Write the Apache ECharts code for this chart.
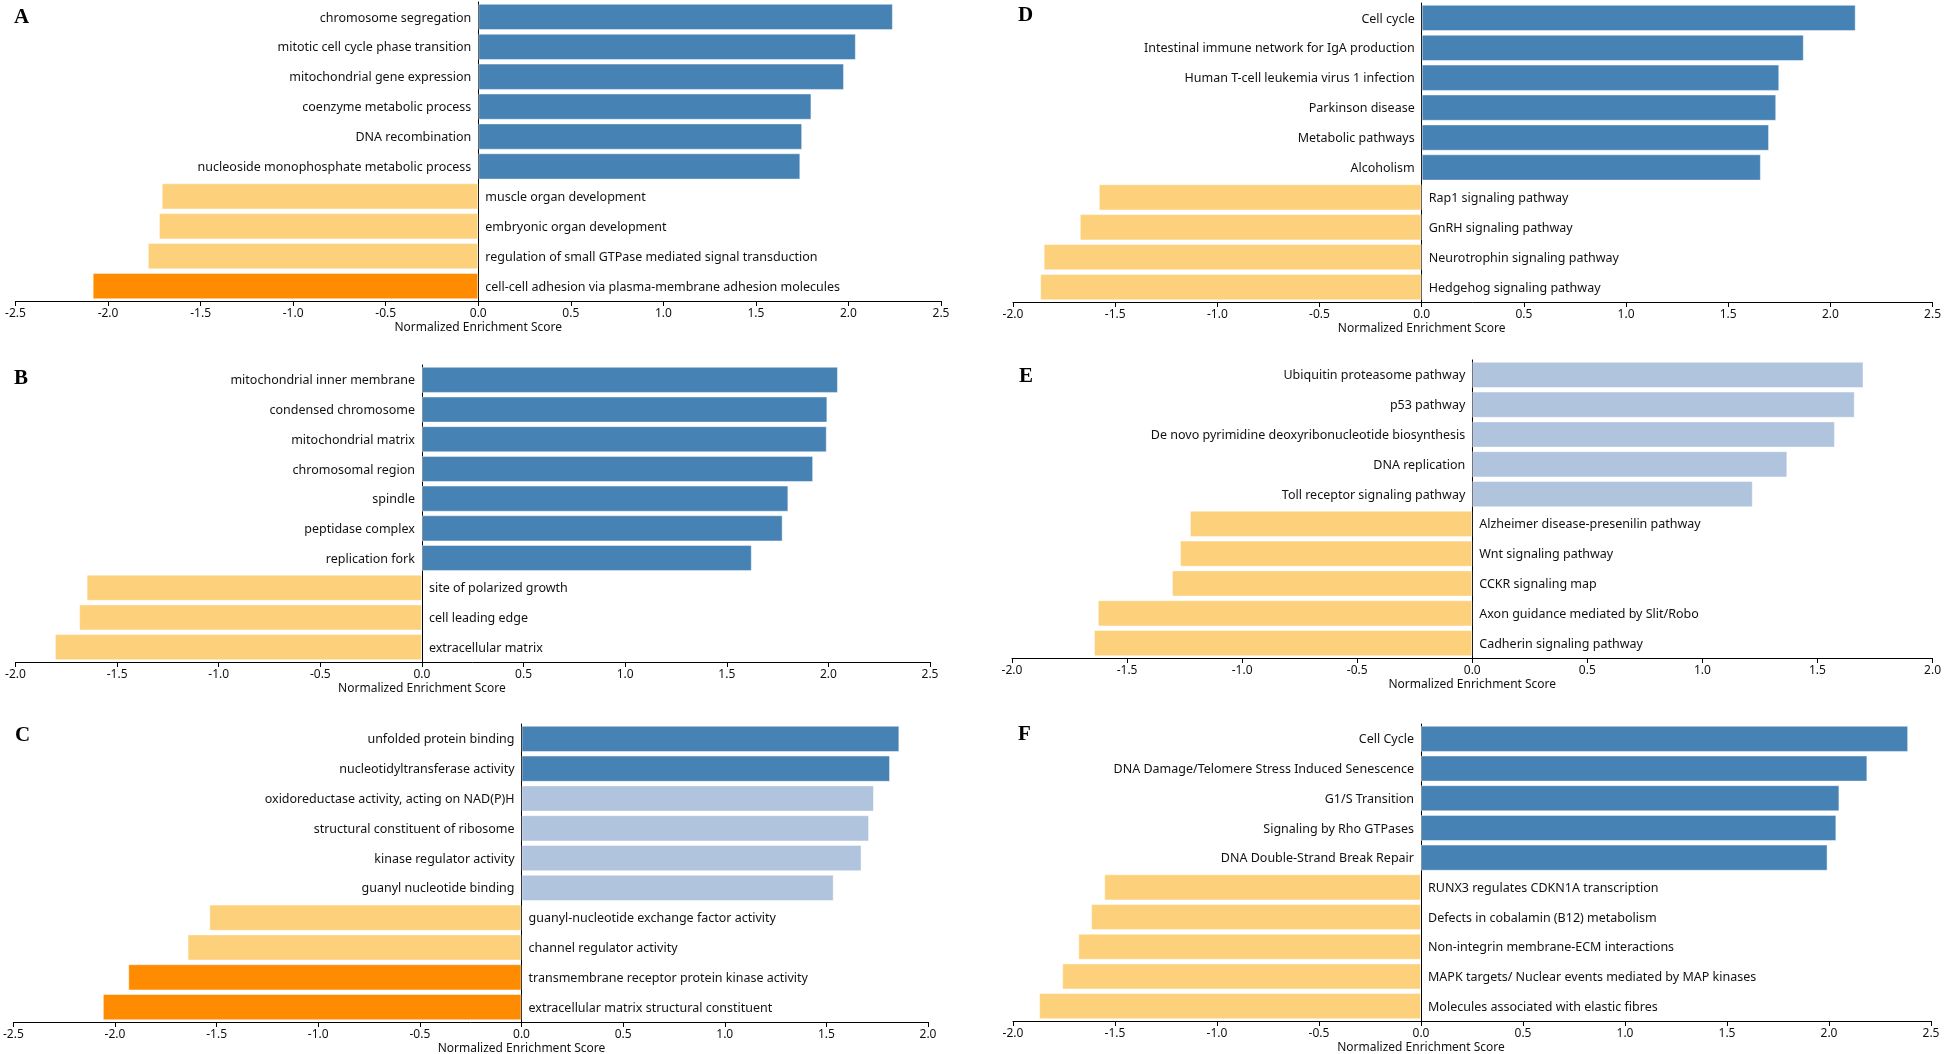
<!DOCTYPE html>
<html>
<head>
<meta charset="utf-8">
<script src="https://cdn.jsdelivr.net/npm/echarts@6/dist/echarts.min.js"></script>
<style>
html,body{margin:0;padding:0;background:#fff;}
#chart{width:1944px;height:1054px;}
</style>
</head>
<body>
<div id="chart"></div>
<script>
// ---------- DATA ----------
const catsA = ["chromosome segregation","mitotic cell cycle phase transition","mitochondrial gene expression","coenzyme metabolic process","DNA recombination","nucleoside monophosphate metabolic process","muscle organ development","embryonic organ development","regulation of small GTPase mediated signal transduction","cell-cell adhesion via plasma-membrane adhesion molecules"];
const valsA = [2.24, 2.04, 1.976, 1.80, 1.75, 1.74, -1.71, -1.725, -1.785, -2.083];
const sigA  = [1,1,1,1,1,1,0,0,0,1];

const catsB = ["mitochondrial inner membrane","condensed chromosome","mitochondrial matrix","chromosomal region","spindle","peptidase complex","replication fork","site of polarized growth","cell leading edge","extracellular matrix"];
const valsB = [2.047, 1.995, 1.992, 1.925, 1.803, 1.775, 1.623, -1.65, -1.687, -1.806];
const sigB  = [1,1,1,1,1,1,1,0,0,0];

const catsC = ["unfolded protein binding","nucleotidyltransferase activity","oxidoreductase activity, acting on NAD(P)H","structural constituent of ribosome","kinase regulator activity","guanyl nucleotide binding","guanyl-nucleotide exchange factor activity","channel regulator activity","transmembrane receptor protein kinase activity","extracellular matrix structural constituent"];
const valsC = [1.859, 1.813, 1.734, 1.71, 1.673, 1.536, -1.536, -1.643, -1.935, -2.06];
const sigC  = [1,1,0,0,0,0,0,0,1,1];

const catsD = ["Cell cycle","Intestinal immune network for IgA production","Human T-cell leukemia virus 1 infection","Parkinson disease","Metabolic pathways","Alcoholism","Rap1 signaling pathway","GnRH signaling pathway","Neurotrophin signaling pathway","Hedgehog signaling pathway"];
const valsD = [2.124, 1.87, 1.75, 1.735, 1.70, 1.66, -1.58, -1.673, -1.85, -1.867];
const sigD  = [1,1,1,1,1,1,0,0,0,0];

const catsE = ["Ubiquitin proteasome pathway","p53 pathway","De novo pyrimidine deoxyribonucleotide biosynthesis","DNA replication","Toll receptor signaling pathway","Alzheimer disease-presenilin pathway","Wnt signaling pathway","CCKR signaling map","Axon guidance mediated by Slit/Robo","Cadherin signaling pathway"];
const valsE = [1.70, 1.662, 1.576, 1.369, 1.219, -1.227, -1.27, -1.305, -1.627, -1.644];
const sigE  = [0,0,0,0,0,0,0,0,0,0];

const catsF = ["Cell Cycle","DNA Damage/Telomere Stress Induced Senescence","G1/S Transition","Signaling by Rho GTPases","DNA Double-Strand Break Repair","RUNX3 regulates CDKN1A transcription","Defects in cobalamin (B12) metabolism","Non-integrin membrane-ECM interactions","MAPK targets/ Nuclear events mediated by MAP kinases","Molecules associated with elastic fibres"];
const valsF = [2.388, 2.188, 2.051, 2.036, 1.993, -1.553, -1.617, -1.68, -1.759, -1.872];
const sigF  = [1,1,1,1,1,0,0,0,0,0];

const rangeA = [-2.5, 2.5], rangeB = [-2.0, 2.5], rangeC = [-2.5, 2.0];
const rangeD = [-2.0, 2.5], rangeE = [-2.0, 2.0], rangeF = [-2.0, 2.5];
const axisTitle = "Normalized Enrichment Score";

// ---------- LAYOUT / STYLE ----------
const panels = [
  {letter:'A', cats:catsA, vals:valsA, sig:sigA, range:rangeA, grid:{left:15.5, right:1003, top:2,   bottom:753}, lp:[14, 7]},
  {letter:'B', cats:catsB, vals:valsB, sig:sigB, range:rangeB, grid:{left:15.5, right:1014, top:365, bottom:392}, lp:[14, 368]},
  {letter:'C', cats:catsC, vals:valsC, sig:sigC, range:rangeC, grid:{left:11,   right:1016, top:724, bottom:32},  lp:[15, 725]},
  {letter:'D', cats:catsD, vals:valsD, sig:sigD, range:rangeD, grid:{left:1013, right:10,   top:3,   bottom:752}, lp:[1018, 5]},
  {letter:'E', cats:catsE, vals:valsE, sig:sigE, range:rangeE, grid:{left:1012, right:10,   top:360, bottom:396}, lp:[1019, 366]},
  {letter:'F', cats:catsF, vals:valsF, sig:sigF, range:rangeF, grid:{left:1013, right:13,   top:724, bottom:33},  lp:[1018, 724]}
];
const COLORS = {
  pos: ['#B0C4DE', '#4682B4'],
  neg: ['#FDD17C', '#FF8C00']
};
const FONT = '"Noto Sans", "Open Sans", sans-serif';

const chart = echarts.init(document.getElementById('chart'), null, {renderer:'canvas'});

const grids = [], xAxes = [], yAxes = [], series = [];
panels.forEach((p, i) => {
  grids.push(Object.assign({containLabel:false}, p.grid));
  xAxes.push({
    type:'value', gridIndex:i, min:p.range[0], max:p.range[1], interval:0.5,
    axisLine:{show:true, lineStyle:{color:'#000', width:1}},
    axisTick:{show:true, length:5, lineStyle:{color:'#000'}},
    splitLine:{show:false},
    axisLabel:{formatter:v => v.toFixed(1), fontSize:12, color:'#111', margin:7, fontFamily:FONT, showMinLabel:true, showMaxLabel:true}
  });
  yAxes.push({
    type:'category', gridIndex:i, data:p.cats, inverse:true,
    axisLine:{show:true, onZero:true, lineStyle:{color:'#000', width:1}},
    axisTick:{show:false}, axisLabel:{show:false}, splitLine:{show:false}
  });
  series.push({
    type:'bar', xAxisIndex:i, yAxisIndex:i, barCategoryGap:'12%',
    z:1,
    data:p.vals.map((v, j) => {
      const col = v >= 0 ? COLORS.pos[p.sig[j]] : COLORS.neg[p.sig[j]];
      return {
        value:v,
        itemStyle:{color:col, borderColor:'rgba(255,255,255,0.45)', borderWidth:1},
        label:{position: v >= 0 ? 'left' : 'right'}
      };
    }),
    label:{show:true, formatter:'{b}', distance:7, fontSize:12.5, color:'#111', fontFamily:FONT, offset:[0,1]},
    animation:false
  });
});

chart.setOption({
  animation:false,
  backgroundColor:'#fff',
  grid:grids, xAxis:xAxes, yAxis:yAxes, series:series
});

// axis titles centered on the zero position, panel letters
const graphics = [];
panels.forEach((p, i) => {
  const x0 = chart.convertToPixel({xAxisIndex:i}, 0);
  const axisY = 1054 - p.grid.bottom;
  graphics.push({
    type:'text', x:x0, y:axisY + 21,
    style:{text:axisTitle, fontSize:12, fill:'#111', fontFamily:FONT, align:'center', verticalAlign:'top'}
  });
  graphics.push({
    type:'text', x:p.lp[0], y:p.lp[1],
    style:{text:p.letter, fontSize:21, fontWeight:'bold', fill:'#000', verticalAlign:'top', fontFamily:'"Liberation Serif", "Times New Roman", serif'}
  });
});
chart.setOption({graphic: graphics});
</script>
</body>
</html>
